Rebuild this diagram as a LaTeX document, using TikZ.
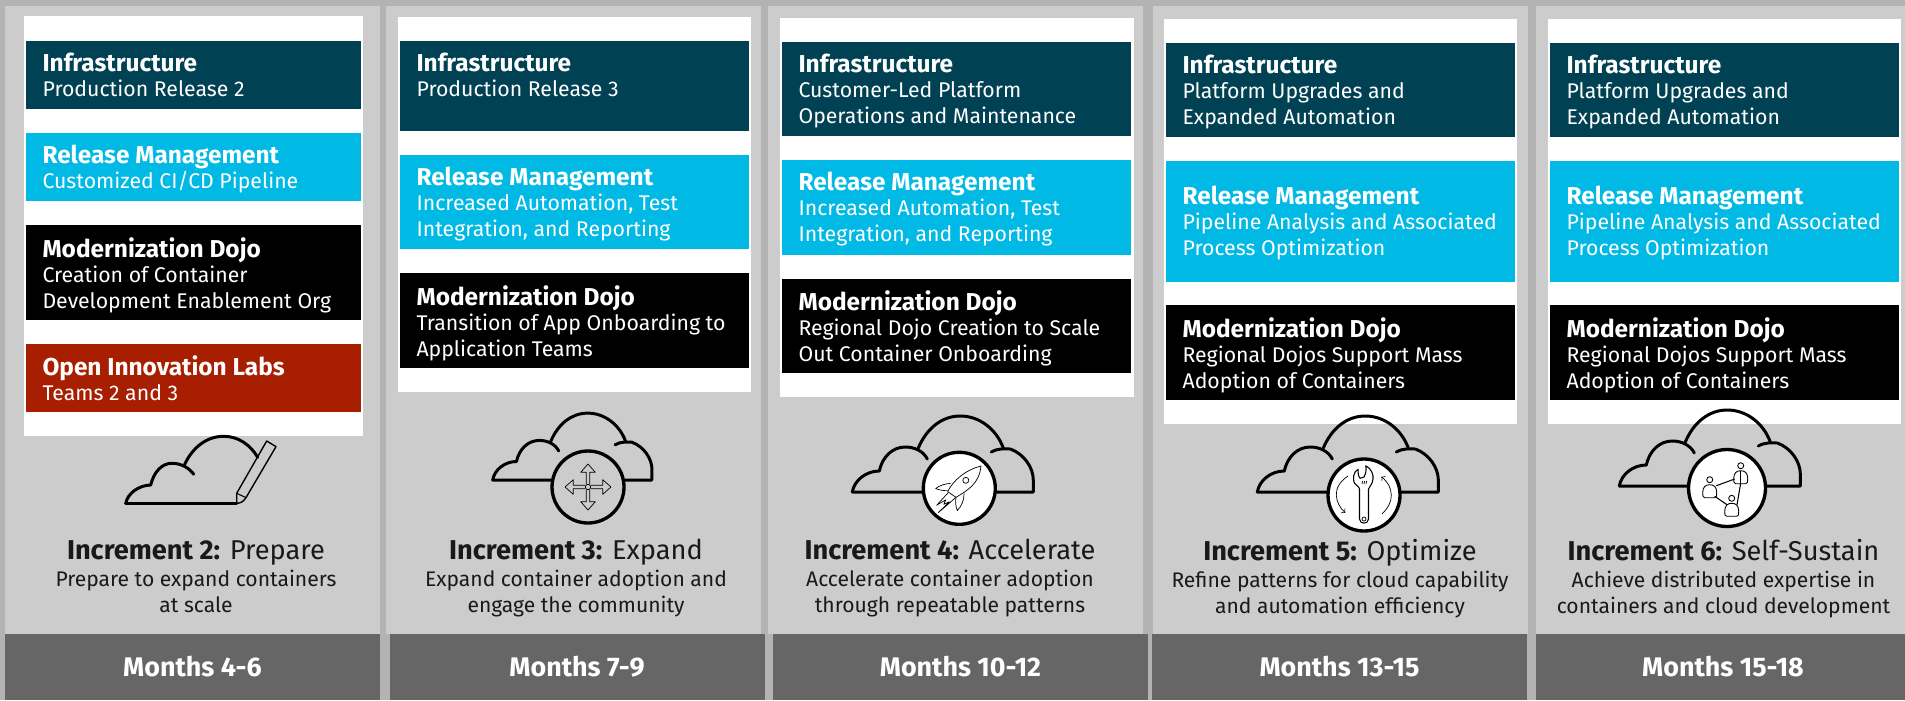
\documentclass[tikz,border=0pt]{standalone}
\usepackage{fontspec}
\setmainfont{Fira Sans}
\definecolor{pagegray}{HTML}{B3B3B3}
\definecolor{panelgray}{HTML}{CCCCCC}
\definecolor{footgray}{HTML}{666666}
\definecolor{infrateal}{HTML}{004153}
\definecolor{releasecyan}{HTML}{00B9E4}
\definecolor{labsred}{HTML}{A81E00}
\tikzset{
  barbox/.style={anchor=north west,inner sep=0pt,outer sep=0pt},
  bartext/.style={anchor=north west,inner sep=0pt,align=left,text=white,font=\fontsize{12.1}{14.74}\selectfont},
  inctext/.style={anchor=north,inner sep=0pt,align=center,text=black!90,font=\fontsize{12}{14.74}\selectfont},
  footbox/.style={fill=footgray,inner sep=0pt,outer sep=0pt,text=white,font=\fontsize{15.3}{16}\selectfont\bfseries},
  cloudline/.style={line width=1.7pt,line cap=round,line join=round},
  ringline/.style={line width=1.9pt},
  iconline/.style={line width=.4pt,line join=round}
}
\newcommand{\cloudtop}{
  \draw[cloudline] (0,0) .. controls (2,-12) and (14,-21) .. (27,-21) .. controls (30,-35) and (40,-45) .. (53,-45) .. controls (62,-45) and (71,-41) .. (75,-33);
  \draw[cloudline] (66,-44) .. controls (74,-63) and (89,-76) .. (108,-76) .. controls (127,-76) and (144,-63) .. (151,-44);
  \draw[cloudline] (139,-40) .. controls (146,-44) and (152,-43) .. (158,-43) .. controls (172,-38) and (181,-24) .. (181,-12) -- (181,0) -- (0,0);
}
\begin{document}
\begin{tikzpicture}[x=.02cm,y=-.02cm]
\useasboundingbox (0,0) rectangle (1905,700);
\fill[pagegray] (0,0) rectangle (1905,700);
\foreach \x/\xe/\wx/\wy/\we/\wb in {5/380/23.7/16/363/436,386/761/397.7/16.5/751/392,768/1143/780/17.5/1133.5/397,1153/1528/1164/18.5/1517/424,1536/1905/1548/18.5/1901/424}{
  \fill[panelgray] (\x,6) rectangle (\xe,634);
  \fill[white] (\wx,\wy) rectangle (\we,\wb);
}
% bars: x / top / width / height / colour / first baseline / title / lines
\foreach \x/\t/\w/\h/\col/\b/\head/\sub [count=\i] in {
  26/41/335/68/infrateal/71/{Infrastructure}/{Production Release 2},
  26/133/335/68/releasecyan/163/{Release Management}/{Customized CI/CD Pipeline},
  26/225/335/95/black/256/{Modernization Dojo}/{Creation of Container\\Development Enablement Org},
  26/344/335/68/labsred/374/{Open Innovation Labs}/{Teams 2 and 3},
  400/41/349/90/infrateal/71/{Infrastructure}/{Production Release 3},
  400/155/349/94/releasecyan/185/{Release Management}/{Increased Automation, Test\\Integration, and Reporting},
  400/273/349/95/black/304/{Modernization Dojo}/{Transition of App Onboarding to\\Application Teams},
  782/41.5/349/94.5/infrateal/72/{Infrastructure}/{Customer-Led Platform\\Operations and Maintenance},
  782/160/349/94.5/releasecyan/190/{Release Management}/{Increased Automation, Test\\Integration, and Reporting},
  782/278.5/349/94.5/black/309/{Modernization Dojo}/{Regional Dojo Creation to Scale\\Out Container Onboarding},
  1166/42.5/349/94.5/infrateal/72.7/{Infrastructure}/{Platform Upgrades and\\Expanded Automation},
  1166/161/349/120.5/releasecyan/204/{Release Management}/{Pipeline Analysis and Associated\\Process Optimization},
  1166/305/349/95/black/336/{Modernization Dojo}/{Regional Dojos Support Mass\\Adoption of Containers},
  1550/42.5/349/94.5/infrateal/72.7/{Infrastructure}/{Platform Upgrades and\\Expanded Automation},
  1550/161/349/120.5/releasecyan/204/{Release Management}/{Pipeline Analysis and Associated\\Process Optimization},
  1550/305/349/95/black/336/{Modernization Dojo}/{Regional Dojos Support Mass\\Adoption of Containers}}{
  \node[barbox,fill=\col,minimum width=\w*.02cm,minimum height=\h*.02cm] (bar\i) at (\x,\t) {};
  \node[bartext] (bartxt\i) at ({\x+16.2},{\b-18.3}) {{\fontsize{13.9}{14.74}\selectfont\bfseries\head}\\[-.5pt]\sub};
}
% footers and captions
\foreach \x/\w/\m/\c/\inc/\name/\desc [count=\i] in {
  192.5/375/4-6/196/2/Prepare/{Prepare to expand containers\\at scale},
  577/375/7-9/576/3/Expand/{Expand container adoption and\\engage the community},
  960.5/375/10-12/950/4/Accelerate/{Accelerate container adoption\\through repeatable patterns},
  1339.5/375/13-15/1340/5/Optimize/{Refine patterns for cloud capability\\and automation efficiency},
  1723/374/15-18/1723.5/6/Self-Sustain/{Achieve distributed expertise in\\containers and cloud development}}{
  \node[footbox,minimum width=\w*.02cm,minimum height=66*.02cm] (foot\i) at (\x,667) {Months \m};
  \node[inctext] (inc\i) at (\c,539) {{\fontsize{15.5}{14.74}\selectfont\vphantom{l}\textbf{Increment \inc:} \name}\\[.6pt]\desc};
}
% Increment 2: cloud with a pencil
\begin{scope}[shift={(125.7,503.3)}]
  \draw[cloudline] (0,0) .. controls (2,-10) and (13,-18) .. (25,-18.3) .. controls (28,-31) and (36,-40) .. (46,-40) .. controls (55,-40) and (63,-36) .. (68,-29);
  \draw[cloudline] (59,-39) .. controls (67,-56) and (81,-67) .. (98,-67) .. controls (113,-67) and (125,-58) .. (132,-46);
  \draw[cloudline] (0,0) -- (111,0);
  \draw[line width=.8pt,line join=round] (111,0) -- (111,-10) -- (141,-62.3) -- (150.3,-56.7) -- (120.3,-5.7) .. controls (118,-2) and (115,0) .. (111,0);
  \draw[line width=.6pt] (111,-10) -- (120.3,-5.7);
\end{scope}
% Increment 3: cloud with four arrows
\begin{scope}[shift={(492.7,480)},scale=.88]
  \cloudtop
\end{scope}
\begin{scope}[shift={(588,487)}]
  \fill[panelgray] (0,0) circle (36);
  \draw[ringline] (0,0) circle (36);
  \foreach \a in {0,90,180,270}
    \draw[iconline,rotate=\a] (-1.7,-2.7) -- (-1.7,-14.7) -- (-7.3,-14.7) -- (0,-23) -- (7.3,-14.7) -- (1.7,-14.7) -- (1.7,-2.7);
  \draw[iconline] (0,0) circle (2.7);
\end{scope}
% Increment 4: rocket
\begin{scope}[shift={(852.3,492)}]
  \cloudtop
\end{scope}
\begin{scope}[shift={(959.3,488.3)}]
  \fill[white] (0,0) circle (36);
  \draw[ringline] (0,0) circle (36);
  \draw[iconline] (21.7,-22.3) .. controls (7.3,-19) and (-6,-8.3) .. (-11.7,3.3) -- (-3.3,9) .. controls (9,1.7) and (20,-5) .. cycle;
  \draw[iconline] (6.5,-8) circle (3);
  \draw[iconline] (-8.7,-5) .. controls (-14,-4.5) and (-20,-3) .. (-23.7,.3) .. controls (-19,2) and (-15,2.5) .. (-11.7,2.3);
  \draw[iconline] (4.7,5) .. controls (5,12) and (2,18) .. (-2,22.3) .. controls (-4,17) and (-4,13) .. (-3.3,9);
  \draw[iconline] (-11,4.3) -- (-22.7,17) -- (-13.5,11.5) -- (-15.5,16) -- (-10,13.5) -- (-21,24.3) -- (-3.3,9);
\end{scope}
% Increment 5: wrench
\begin{scope}[shift={(1257.3,492)}]
  \cloudtop
\end{scope}
\begin{scope}[shift={(1364,495)}]
  \fill[white] (0,0) circle (36);
  \draw[ringline] (0,0) circle (36);
  \draw[line width=.6pt,line join=round] (-4.5,-6) -- (-4.5,24) .. controls (-4.5,29.5) and (4.5,29.5) .. (4.5,24) -- (4.5,-6) .. controls (5,-9) and (8.5,-10) .. (9,-16) .. controls (9.5,-20) and (8,-26) .. (1.7,-29.3) .. controls (2.5,-25) and (2,-22) .. (0,-18) -- (-4,-16.7) .. controls (-6,-19) and (-6,-23) .. (-6,-25.7) .. controls (-11,-23) and (-11,-16) .. (-10,-13) .. controls (-9,-10) and (-5,-9) .. (-4.5,-6);
  \draw[iconline] (0,24) circle (2);
  \foreach \k in {-2,0,2} \draw[iconline] (\k,-11) -- (\k+.6,-14);
  \draw[iconline,->] (-16,-19) .. controls (-25,-13) and (-28,-6) .. (-27.7,0) .. controls (-27.5,7) and (-24,13) .. (-18.7,17.7);
  \draw[iconline,->] (18,19) .. controls (24,13) and (27.5,7) .. (27.3,0) .. controls (27,-7) and (24,-13) .. (17.3,-18.3);
\end{scope}
% Increment 6: three people
\begin{scope}[shift={(1619.3,486)}]
  \cloudtop
\end{scope}
\begin{scope}[shift={(1727,488)}]
  \fill[white] (0,0) circle (38.5);
  \draw[ringline] (0,0) circle (38.5);
  \foreach \px/\py in {-17.3/-8.3,13.7/-22.3,4.7/10.3}{
    \draw[iconline,line width=.5pt] (\px,\py) circle (3);
    \draw[iconline,line width=.5pt] (\px-5,\py+18) .. controls (\px-7,\py+18) and (\px-7,\py+16) .. (\px-7,\py+13) .. controls (\px-7,\py+7) and (\px-4,\py+5) .. (\px,\py+5) .. controls (\px+4,\py+5) and (\px+7,\py+7) .. (\px+7,\py+13) .. controls (\px+7,\py+16) and (\px+7,\py+18) .. (\px+5,\py+18) -- cycle;
  }
  \draw[iconline,line width=.6pt] (-10.7,-2.3) -- (7.7,-9);
  \draw[iconline,line width=.6pt] (13.7,-5) -- (10,16.7);
  \draw[iconline,line width=.6pt] (-12.3,8.3) -- (0,16.7);
  \draw[iconline] (13.7,-17) -- (13.7,-5);
\end{scope}
\end{tikzpicture}
\end{document}
